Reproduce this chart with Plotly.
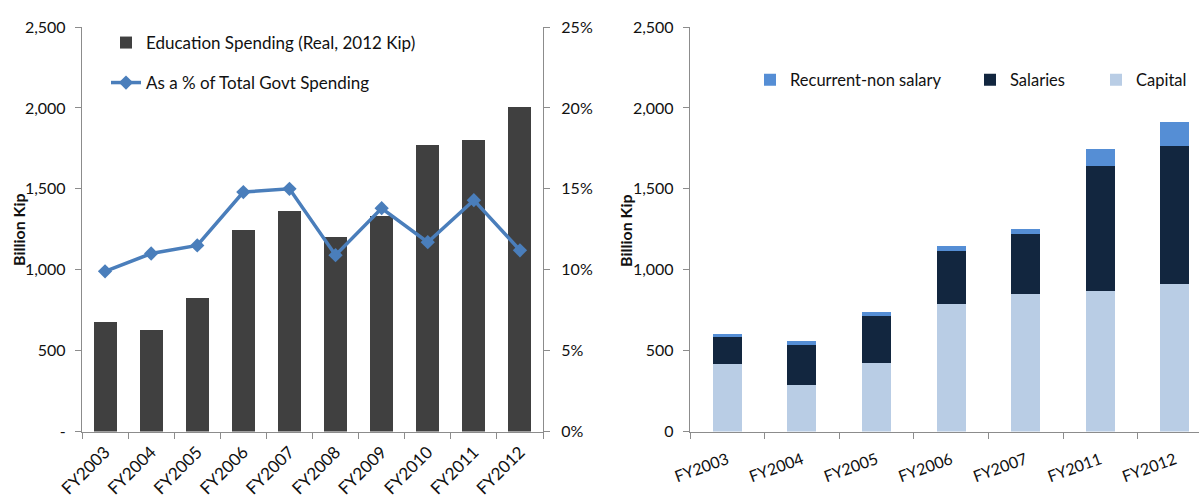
import plotly.graph_objects as go

# ---- Left panel: education spending and its share of total spending ----
years_left = ["FY2003", "FY2004", "FY2005", "FY2006", "FY2007",
              "FY2008", "FY2009", "FY2010", "FY2011", "FY2012"]
edu_spending = [679, 630, 827, 1247, 1364, 1204, 1333, 1772, 1802, 2006]
pct_share = [0.099, 0.110, 0.115, 0.148, 0.150, 0.109, 0.138, 0.117, 0.143, 0.112]

left_ticks = [0, 500, 1000, 1500, 2000, 2500]
left_ticktext = ["-", "500", "1,000", "1,500", "2,000", "2,500"]

# ---- Right panel: composition of education spending ----
years_right = ["FY2003", "FY2004", "FY2005", "FY2006", "FY2007", "FY2011", "FY2012"]
capital = [415, 290, 425, 786, 848, 871, 912]
salaries = [167, 247, 288, 330, 373, 771, 854]
recurrent_non_salary = [23, 20, 23, 29, 31, 105, 146]

right_ticks = [0, 500, 1000, 1500, 2000, 2500]
right_ticktext = ["0", "500", "1,000", "1,500", "2,000", "2,500"]

FONT = "Lato, Open Sans, sans-serif"
TEXT = "#111111"
AXIS_GREY = "#8c8c8c"
W, H = 1199, 499


def px_x(p):
    return p / W


def px_y(p):
    return 1 - p / H


fig = go.Figure()

fig.add_trace(go.Bar(
    x=years_left, y=edu_spending, name="Education Spending (Real, 2012 Kip)",
    marker=dict(color="#404040", line=dict(width=0)), width=0.5,
    xaxis="x", yaxis="y", legend="legend", showlegend=True,
))
fig.add_trace(go.Scatter(
    x=years_left, y=pct_share, name="As a % of Total Govt Spending",
    mode="lines+markers", line=dict(color="#4A7EBB", width=3.5),
    marker=dict(symbol="diamond", size=11, color="#4A7EBB"),
    xaxis="x", yaxis="y2", legend="legend2", showlegend=True,
))

fig.add_trace(go.Bar(
    x=years_right, y=capital, name="Capital",
    marker=dict(color="#B9CDE5", line=dict(width=0)), width=0.39,
    xaxis="x2", yaxis="y3", legend="legend5", showlegend=True,
))
fig.add_trace(go.Bar(
    x=years_right, y=salaries, name="Salaries",
    marker=dict(color="#12263F", line=dict(width=0)), width=0.39,
    xaxis="x2", yaxis="y3", legend="legend4", showlegend=True,
))
fig.add_trace(go.Bar(
    x=years_right, y=recurrent_non_salary, name="Recurrent-non salary",
    marker=dict(color="#558ED5", line=dict(width=0)), width=0.39,
    xaxis="x2", yaxis="y3", legend="legend3", showlegend=True,
))

# Empty traces so the boundary-tick overlay axes get drawn
for xa, ya in (("x3", "y"), ("x4", "y3")):
    fig.add_trace(go.Scatter(x=[], y=[], xaxis=xa, yaxis=ya,
                             showlegend=False, hoverinfo="skip"))

ydom = [px_y(431.5), px_y(27)]
left_xdom = [px_x(82), px_x(543)]
right_xdom = [px_x(690), 1]
left_xrange = [-0.5, len(years_left) - 0.5]
right_xrange = [-0.5, len(years_right) - 0.5 - (690 + 7 * 74.6 - W) / 74.6]


def tickfont(size=16):
    return dict(family=FONT, size=size, color=TEXT)


common_axis = dict(showline=True, linecolor=AXIS_GREY, linewidth=1.3,
                   ticks="outside", tickcolor=AXIS_GREY, ticklen=6,
                   showgrid=False, zeroline=False,
                   automargin=False, fixedrange=True)

# Category axes carry the labels only (transparent ticks set their offset);
# a linear overlay axis draws the line and the marks on category boundaries.
label_axis = dict(showline=False, ticks="outside", tickcolor="rgba(0,0,0,0)",
                  showgrid=False, zeroline=False, automargin=False,
                  fixedrange=True)


def boundary_axis(domain, rng, n, overlay, anchor):
    return dict(domain=domain, anchor=anchor, overlaying=overlay, type="linear",
                range=rng, tickvals=[i - 0.5 for i in range(n + 1)],
                showticklabels=False, **common_axis)


def legend_at(x_px, y_px, size=16):
    return dict(x=px_x(x_px), y=px_y(y_px), xanchor="left", yanchor="middle",
                bgcolor="rgba(0,0,0,0)", borderwidth=0, visible=True,
                font=dict(family=FONT, size=size, color=TEXT),
                itemwidth=30, itemclick=False, itemdoubleclick=False)


def axis_title(text, x_px, y_px):
    return dict(text=f"<b>{text}</b>", x=px_x(x_px), y=px_y(y_px),
                xref="paper", yref="paper", xanchor="center", yanchor="middle",
                showarrow=False, textangle=-90,
                font=dict(family=FONT, size=16, color=TEXT))


fig.update_layout(
    width=W, height=H,
    margin=dict(l=0, r=0, t=0, b=0),
    paper_bgcolor="white", plot_bgcolor="white",
    barmode="stack",
    showlegend=True,
    font=dict(family=FONT, color=TEXT),
    xaxis=dict(domain=left_xdom, anchor="y", range=left_xrange,
               tickangle=-45, ticklen=3, tickfont=tickfont(17), **label_axis),
    xaxis3=boundary_axis(left_xdom, left_xrange, len(years_left), "x", "y"),
    yaxis=dict(domain=ydom, anchor="x", range=[0, 2500],
               tickvals=left_ticks, ticktext=left_ticktext,
               ticklabelstandoff=6, tickfont=tickfont(), **common_axis),
    yaxis2=dict(domain=ydom, anchor="x", overlaying="y", side="right",
                range=[0, 0.25], tickvals=[0, 0.05, 0.10, 0.15, 0.20, 0.25],
                tickformat=".0%", ticklabelstandoff=8, tickfont=tickfont(),
                **common_axis),
    xaxis2=dict(domain=right_xdom, anchor="y3", range=right_xrange,
                tickangle=-20, ticklen=12, tickfont=tickfont(16), **label_axis),
    xaxis4=boundary_axis(right_xdom, right_xrange, len(years_right), "x2", "y3"),
    yaxis3=dict(domain=ydom, anchor="x2", range=[0, 2500],
                tickvals=right_ticks, ticktext=right_ticktext,
                ticklabelstandoff=6, tickfont=tickfont(), **common_axis),
    legend=legend_at(106, 43, 17),
    legend2=legend_at(106, 83, 17),
    legend3=legend_at(750, 80, 16.5),
    legend4=legend_at(970, 80, 16.5),
    legend5=legend_at(1096, 80, 16.5),
    annotations=[
        axis_title("Billion Kip", 18, 230),
        axis_title("Billion Kip", 625, 231),
    ],
)

fig.write_html("out.html")
